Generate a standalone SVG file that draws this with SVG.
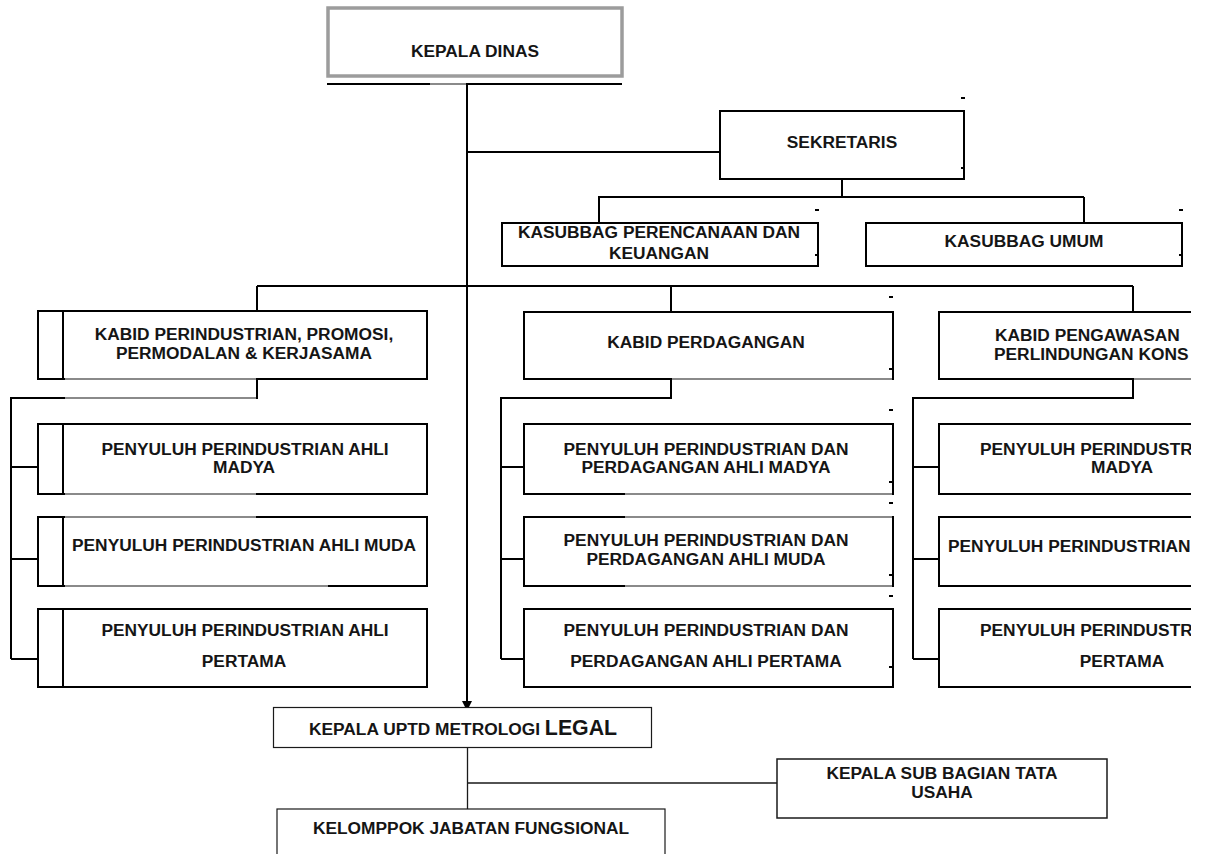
<svg xmlns="http://www.w3.org/2000/svg" width="1205" height="854" viewBox="0 0 1205 854">
<defs>
<style>
.t{font-family:"Liberation Sans",Arial,sans-serif;font-weight:bold;font-size:17.33px;fill:#151515;text-anchor:middle}
.ts{text-anchor:start}
.b{fill:#fff;stroke:#000;stroke-width:2}
.bt{fill:#fff;stroke:#1a1a1a;stroke-width:1.2}
.c{fill:none;stroke:#000;stroke-width:2}
.ct{fill:none;stroke:#1a1a1a;stroke-width:1.3}
.dv{stroke:#000;stroke-width:2}
.d{fill:#000}
.g{fill:none;stroke:#8a8a8a;stroke-width:2}
</style>
<marker id="arrow" viewBox="0 0 10 10" refX="10" refY="5" markerWidth="10" markerHeight="10" markerUnits="userSpaceOnUse" orient="auto">
<path d="M0,0 L10,5 L0,10 z" fill="#000"/>
</marker>
<clipPath id="clipR"><rect x="0" y="0" width="1191" height="854"/></clipPath>
</defs>
<rect width="1205" height="854" fill="#fff"/>

<g id="connectors">
<path class="c" d="M467 84 V711" marker-end="url(#arrow)"/>
<path class="c" d="M467 152 H720"/>
<path class="c" d="M842 179 V197 M598 197 H1084 M599 197 V223 M1084 197 V223"/>
<path class="c" d="M257 286 H1133 M257 286 V311 M671 286 V311 M1133 286 V311"/>
<path class="c" d="M257 379 V398 H11 V659 M11 467 H38 M11 559 H38 M11 659 H38"/>
<path class="g" d="M65 398 H256"/>
<path class="c" d="M671 379 V398 H501 V659 M501 467 H524 M501 559 H524 M501 659 H524"/>
<path class="c" d="M1133 379 V398 H913 V659 M913 467 H939 M913 559 H939 M913 659 H939"/>
<path class="ct" d="M467.5 748 V809 M468 783 H777"/>
</g>

<g id="kepala-dinas">
<rect x="328" y="8" width="294" height="68" fill="#fff" stroke="#9c9c9c" stroke-width="3.5"/>
<path class="c" d="M327 84 H430 M466 84 H622"/>
<path class="g" d="M430 84 H466"/>
<text class="t" x="475" y="57">KEPALA DINAS</text>
</g>

<g id="sekretaris">
<rect class="b" x="720" y="111" width="244" height="68"/>
<text class="t" x="842" y="148">SEKRETARIS</text>
<rect class="d" x="961" y="97" width="4" height="2"/>
<rect class="d" x="961" y="167" width="4" height="2"/>
</g>

<g id="kasubbag-perencanaan">
<rect class="b" x="502" y="223" width="316" height="43"/>
<text class="t" x="659" y="238">KASUBBAG PERENCANAAN DAN</text>
<text class="t" x="659" y="259">KEUANGAN</text>
<rect class="d" x="815" y="209" width="4" height="2"/>
<rect class="d" x="815" y="254" width="4" height="2"/>
</g>

<g id="kasubbag-umum">
<rect class="b" x="866" y="223" width="316" height="43"/>
<text class="t" x="1024" y="247">KASUBBAG UMUM</text>
<rect class="d" x="1179" y="209" width="4" height="2"/>
<rect class="d" x="1179" y="254" width="4" height="2"/>
</g>

<g id="kabid-perindustrian">
<rect class="b" x="38" y="311" width="389" height="68"/>
<line class="dv" x1="63" y1="311" x2="63" y2="379"/>
<path class="g" d="M65 379 H256"/>
<text class="t" x="244" y="340">KABID PERINDUSTRIAN, PROMOSI,</text>
<text class="t" x="244" y="359">PERMODALAN &amp; KERJASAMA</text>
</g>

<g id="kabid-perdagangan">
<rect class="b" x="524" y="312" width="369" height="67"/>
<path class="g" d="M672 379 H892"/>
<text class="t" x="706" y="348">KABID PERDAGANGAN</text>
<rect class="d" x="889" y="296" width="4" height="2"/>
<rect class="d" x="889" y="368" width="4" height="2"/>
</g>

<g id="kabid-pengawasan" clip-path="url(#clipR)">
<rect class="b" x="939" y="312" width="369" height="67"/>
<path class="g" d="M1134 379 H1191"/>
<text class="t ts" x="995" y="341">KABID PENGAWASAN</text>
<text class="t ts" x="994" y="360">PERLINDUNGAN KONS</text>
</g>

<g id="penyuluh-perindustrian-madya">
<rect class="b" x="38" y="424" width="389" height="70"/>
<line class="dv" x1="63" y1="424" x2="63" y2="494"/>
<path class="g" d="M65 494 H256"/>
<text class="t" x="245" y="455">PENYULUH PERINDUSTRIAN AHLI</text>
<text class="t" x="244" y="473">MADYA</text>
</g>

<g id="penyuluh-perindustrian-muda">
<rect class="b" x="38" y="517" width="389" height="69"/>
<line class="dv" x1="63" y1="517" x2="63" y2="586"/>
<path class="g" d="M65 517 H256 M65 586 H328"/>
<text class="t" x="244" y="551">PENYULUH PERINDUSTRIAN AHLI MUDA</text>
</g>

<g id="penyuluh-perindustrian-pertama">
<rect class="b" x="38" y="609" width="389" height="78"/>
<line class="dv" x1="63" y1="609" x2="63" y2="687"/>
<text class="t" x="245" y="636">PENYULUH PERINDUSTRIAN AHLI</text>
<text class="t" x="244" y="667">PERTAMA</text>
</g>

<g id="penyuluh-dag-madya">
<rect class="b" x="524" y="424" width="369" height="70"/>
<path class="g" d="M625 494 H892"/>
<text class="t" x="706" y="455">PENYULUH PERINDUSTRIAN DAN</text>
<text class="t" x="706" y="473">PERDAGANGAN AHLI MADYA</text>
<rect class="d" x="889" y="409" width="4" height="2"/>
<rect class="d" x="889" y="481" width="4" height="2"/>
</g>

<g id="penyuluh-dag-muda">
<rect class="b" x="524" y="517" width="369" height="69"/>
<path class="g" d="M625 517 H892 M625 586 H892"/>
<text class="t" x="706" y="546">PENYULUH PERINDUSTRIAN DAN</text>
<text class="t" x="706" y="565">PERDAGANGAN AHLI MUDA</text>
<rect class="d" x="889" y="502" width="4" height="2"/>
<rect class="d" x="889" y="574" width="4" height="2"/>
</g>

<g id="penyuluh-dag-pertama">
<rect class="b" x="524" y="609" width="369" height="78"/>
<text class="t" x="706" y="636">PENYULUH PERINDUSTRIAN DAN</text>
<text class="t" x="706" y="667">PERDAGANGAN AHLI PERTAMA</text>
<rect class="d" x="889" y="595" width="4" height="2"/>
<rect class="d" x="889" y="666" width="4" height="2"/>
</g>

<g id="penyuluh-kanan-madya" clip-path="url(#clipR)">
<rect class="b" x="939" y="424" width="369" height="70"/>
<text class="t ts" x="980" y="455">PENYULUH PERINDUSTRI</text>
<text class="t" x="1122" y="473">MADYA</text>
</g>

<g id="penyuluh-kanan-muda" clip-path="url(#clipR)">
<rect class="b" x="939" y="517" width="369" height="69"/>
<text class="t ts" x="948" y="552">PENYULUH PERINDUSTRIAN</text>
</g>

<g id="penyuluh-kanan-pertama" clip-path="url(#clipR)">
<rect class="b" x="939" y="609" width="369" height="78"/>
<text class="t ts" x="980" y="636">PENYULUH PERINDUSTRI</text>
<text class="t" x="1122" y="667">PERTAMA</text>
</g>

<g id="uptd-metrologi">
<rect class="bt" x="273.5" y="707.5" width="378" height="40"/>
<text class="t ts" x="309" y="735">KEPALA UPTD METROLOGI <tspan style="font-size:21.33px">LEGAL</tspan></text>
</g>

<g id="sub-bagian-tata-usaha">
<rect x="777" y="759" width="330" height="59" fill="#fff" stroke="#1a1a1a" stroke-width="1.5"/>
<text class="t" x="942" y="779">KEPALA SUB BAGIAN TATA</text>
<text class="t" x="942" y="798">USAHA</text>
</g>

<g id="kelompok-fungsional">
<rect class="bt" x="277" y="809" width="388" height="60"/>
<text class="t" x="471" y="834">KELOMPPOK JABATAN FUNGSIONAL</text>
</g>
</svg>
